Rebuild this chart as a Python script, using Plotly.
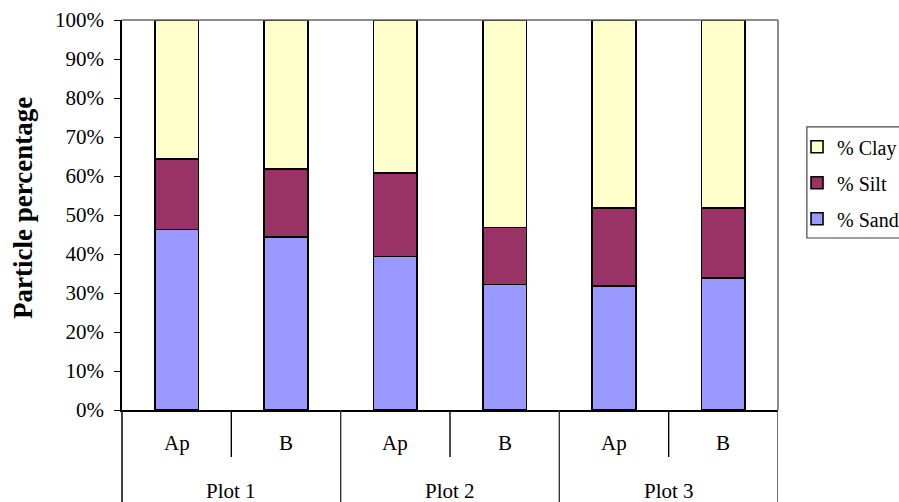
import plotly.graph_objects as go

# Soil texture fractions (%) per plot and horizon
plots = ["Plot 1", "Plot 2", "Plot 3"]
horizons = ["Ap", "B"]
sand = [46.3, 44.3, 39.4, 32.2, 31.8, 33.8]
silt = [18.0, 17.5, 21.4, 14.6, 20.0, 18.0]
clay = [round(100 - s - t, 1) for s, t in zip(sand, silt)]
y_ticks = list(range(0, 101, 10))

cats = [f"{p} {h}" for p in plots for h in horizons]

FONT = "Liberation Serif, Times New Roman, serif"
BOTTOM = -0.236  # bottom of the category label area, in paper units

fig = go.Figure()
for rank, (name, vals, color) in enumerate([("% Sand", sand, "#9999FF"),
                                            ("% Silt", silt, "#993366"),
                                            ("% Clay", clay, "#FFFFCC")]):
    fig.add_trace(go.Bar(
        x=cats, y=vals, name=name, legendgroup=name,
        legendrank=3 - rank,
        marker=dict(color=color, line=dict(color="black", width=1.6)),
    ))

fig.update_layout(
    barmode="stack",
    bargap=0.6,
    width=899, height=502,
    margin=dict(l=122, r=121, t=20, b=92, autoexpand=False),
    plot_bgcolor="white", paper_bgcolor="white",
    font=dict(family=FONT, size=21, color="black"),
    showlegend=True,
    legend=dict(
        traceorder="grouped",
        x=1.029, xanchor="left", y=0.725, yanchor="top",
        borderwidth=0, bgcolor="rgba(0,0,0,0)",
        font=dict(family=FONT, size=20),
        tracegroupgap=7, itemwidth=30,
    ),
    xaxis=dict(
        type="category", showticklabels=False, ticks="",
        showline=True, linecolor="black", linewidth=1.5,
        range=[-0.5, len(cats) - 0.5], showgrid=False,
    ),
    yaxis=dict(
        range=[0, 100], tickvals=y_ticks,
        ticktext=[f"{v}%" for v in y_ticks],
        ticks="outside", ticklen=6, tickcolor="black", tickwidth=1.2,
        ticklabelstandoff=6,
        showline=True, linecolor="black", linewidth=1.5,
        showgrid=False, zeroline=False,
        tickfont=dict(family=FONT, size=21),
    ),
)

# y-axis title
fig.add_annotation(text="<b>Particle percentage</b>", textangle=-90,
                   xref="paper", yref="paper", x=-0.151, y=0.518,
                   xanchor="center", yanchor="middle",
                   showarrow=False, font=dict(family=FONT, size=27))

# legend frame
fig.add_shape(type="rect", xref="paper", yref="paper",
              x0=1.044, x1=1.2, y0=0.441, y1=0.726,
              line=dict(color="#444444", width=1.2), fillcolor="white",
              layer="below")

# top and right border of the plot area
fig.add_shape(type="line", xref="paper", yref="paper",
              x0=0, x1=1, y0=1, y1=1,
              line=dict(color="#666666", width=1.5))
fig.add_shape(type="line", xref="paper", yref="paper",
              x0=1, x1=1, y0=0, y1=1,
              line=dict(color="#666666", width=1.5))
# left axis line extended through the category area
fig.add_shape(type="line", xref="paper", yref="paper",
              x0=0, x1=0, y0=0, y1=BOTTOM,
              line=dict(color="black", width=1.5))

# dividers for the two-level category axis
for i in range(len(cats)):
    boundary = i + 0.5
    outer = (i % 2 == 1)
    fig.add_shape(type="line", xref="x", yref="paper",
                  x0=boundary, x1=boundary, y0=0,
                  y1=BOTTOM if outer else -0.1205,
                  line=dict(color="#333333" if outer else "black",
                            width=1.4))

# inner (horizon) labels
for i, c in enumerate(cats):
    fig.add_annotation(x=c, xref="x", yref="paper", y=-0.084,
                       xanchor="center", yanchor="middle",
                       text=horizons[i % 2], showarrow=False,
                       font=dict(family=FONT, size=21))
# outer (plot) labels
for j, p in enumerate(plots):
    fig.add_annotation(x=2 * j + 0.5, xref="x", yref="paper", y=-0.207,
                       xanchor="center", yanchor="middle",
                       text=p, showarrow=False,
                       font=dict(family=FONT, size=21))

fig.write_html("out.html")
